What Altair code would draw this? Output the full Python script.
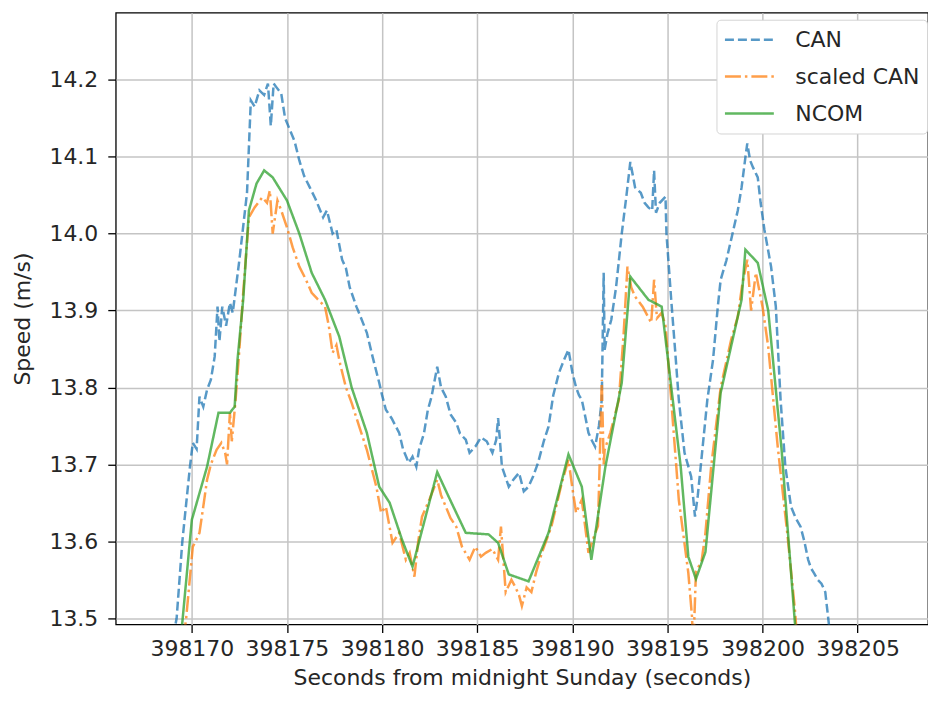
import altair as alt
import pandas as pd

can_t = [398168.9, 398169.2, 398169.5, 398169.9, 398170.05, 398170.25, 398170.4, 398170.6, 398170.8, 398171.0,
         398171.2, 398171.35, 398171.45, 398171.6, 398171.8, 398172.0, 398172.15, 398172.5, 398172.9, 398173.1,
         398173.3, 398173.55, 398173.8, 398174.0, 398174.15, 398174.3, 398174.45, 398174.7, 398174.9, 398175.1,
         398175.4, 398175.65, 398175.9, 398176.2, 398176.5, 398176.9, 398177.1, 398177.4, 398177.6, 398177.9,
         398178.1, 398178.3, 398178.65, 398178.9, 398179.2, 398179.5, 398179.85, 398180.0, 398180.2, 398180.5,
         398180.9, 398181.1, 398181.4, 398181.6, 398181.8, 398181.95, 398182.2, 398182.4, 398182.6, 398182.9,
         398183.1, 398183.35, 398183.6, 398183.9, 398184.1, 398184.4, 398184.6, 398184.9, 398185.2, 398185.5,
         398185.8, 398186.0, 398186.1, 398186.2, 398186.3, 398186.66, 398186.9, 398187.2, 398187.45, 398187.7,
         398187.95, 398188.2, 398188.5, 398188.75, 398189.0, 398189.3, 398189.55, 398189.8, 398190.0, 398190.2,
         398190.35, 398190.5, 398190.7, 398190.85, 398191.05, 398191.2, 398191.4, 398191.55, 398191.65, 398191.7,
         398191.85, 398192.05, 398192.3, 398192.6, 398192.85, 398193.05, 398193.3, 398193.6, 398193.8, 398194.0,
         398194.2, 398194.3, 398194.4, 398194.6, 398194.9, 398194.95, 398195.2, 398195.4, 398195.6, 398195.9,
         398196.25, 398196.45, 398196.6, 398196.75, 398197.1, 398197.4, 398197.65, 398197.8, 398198.1, 398198.35,
         398198.7, 398198.9, 398199.1, 398199.2, 398199.35, 398199.5, 398199.75, 398199.9, 398200.1, 398200.45,
         398200.7, 398200.95, 398201.2, 398201.5, 398201.75, 398202.0, 398202.2, 398202.4, 398202.55, 398202.7,
         398202.9, 398203.1, 398203.3, 398203.5, 398203.6]
can_v = [13.46, 13.50, 13.60, 13.697, 13.728, 13.72, 13.788, 13.775, 13.797, 13.81,
         13.84, 13.905, 13.86, 13.905, 13.88, 13.91, 13.897, 13.966, 14.053, 14.173,
         14.165, 14.186, 14.18, 14.195, 14.14, 14.195, 14.19, 14.182, 14.15, 14.138,
         14.12, 14.095, 14.075, 14.06, 14.045, 14.021, 14.03, 14.0, 14.005, 13.966,
         13.955, 13.93, 13.905, 13.89, 13.871, 13.84, 13.806, 13.79, 13.771, 13.76,
         13.741, 13.72, 13.702, 13.71, 13.697, 13.72, 13.74, 13.77, 13.788, 13.827,
         13.80, 13.788, 13.765, 13.754, 13.74, 13.732, 13.715, 13.723, 13.735, 13.73,
         13.715, 13.732, 13.76, 13.73, 13.697, 13.671, 13.68, 13.689, 13.665, 13.671,
         13.685, 13.702, 13.73, 13.749, 13.79, 13.819, 13.835, 13.849, 13.82, 13.80,
         13.79, 13.784, 13.76, 13.741, 13.73, 13.723, 13.75, 13.784, 13.949, 13.849,
         13.87, 13.888, 13.93, 14.0, 14.05, 14.093, 14.06, 14.053, 14.04, 14.034,
         14.03, 14.082, 14.027, 14.04, 14.048, 14.0, 13.914, 13.85, 13.784, 13.715,
         13.684, 13.632, 13.66, 13.697, 13.784, 13.836, 13.905, 13.94, 13.965, 13.992,
         14.03, 14.06, 14.099, 14.117, 14.095, 14.086, 14.073, 14.04, 14.005, 13.957,
         13.905, 13.784, 13.697, 13.645, 13.63, 13.619, 13.60, 13.576, 13.565, 13.559,
         13.55, 13.545, 13.534, 13.49, 13.47]

scaled_t = [398169.4, 398169.7, 398170.05, 398170.2, 398170.4, 398170.6, 398170.8, 398171.0, 398171.3, 398171.55,
            398171.75, 398171.85, 398172.0, 398172.1, 398172.3, 398172.5, 398172.7, 398173.0, 398173.3, 398173.7,
            398173.95, 398174.1, 398174.25, 398174.5, 398174.7, 398175.0, 398175.3, 398175.65, 398176.0, 398176.3,
            398176.6, 398177.0, 398177.2, 398177.4, 398177.6, 398177.8, 398178.1, 398178.4, 398178.8, 398179.2,
            398179.5, 398179.7, 398179.95, 398180.2, 398180.55, 398180.9, 398181.25, 398181.45, 398181.7, 398181.9,
            398182.1, 398182.5, 398182.9, 398183.1, 398183.35, 398183.6, 398183.9, 398184.2, 398184.6, 398184.9,
            398185.2, 398185.45, 398185.8, 398186.1, 398186.25, 398186.5, 398186.8, 398187.0, 398187.2, 398187.35,
            398187.6, 398187.85, 398188.1, 398188.4, 398188.9, 398189.45, 398189.8, 398190.0, 398190.2, 398190.5,
            398190.85, 398191.05, 398191.35, 398191.5, 398191.55, 398191.65, 398191.7, 398192.0, 398192.45, 398192.7,
            398192.9, 398193.1, 398193.3, 398193.7, 398194.15, 398194.3, 398194.45, 398194.7, 398194.9, 398195.2,
            398195.6, 398196.1, 398196.3, 398196.35, 398196.5, 398196.8, 398197.0, 398197.3, 398197.8, 398198.35,
            398198.7, 398198.95, 398199.2, 398199.4, 398199.65, 398200.0, 398200.3, 398200.8, 398201.3, 398201.7,
            398201.9]
scaled_v = [13.44, 13.50, 13.593, 13.60, 13.611, 13.645, 13.68, 13.70, 13.719, 13.728,
            13.715, 13.70, 13.767, 13.73, 13.784, 13.85, 13.923, 14.021, 14.034, 14.047,
            14.04, 14.056, 14.0, 14.043, 14.03, 14.008, 13.982, 13.957, 13.94, 13.923,
            13.915, 13.905, 13.88, 13.845, 13.855, 13.83, 13.80, 13.78, 13.749, 13.719,
            13.69, 13.671, 13.637, 13.645, 13.598, 13.611, 13.576, 13.585, 13.554, 13.60,
            13.632, 13.655, 13.68, 13.66, 13.645, 13.63, 13.619, 13.593, 13.576, 13.593,
            13.58, 13.585, 13.59, 13.576, 13.619, 13.534, 13.55, 13.541, 13.53, 13.516,
            13.54, 13.534, 13.56, 13.585, 13.619, 13.676, 13.706, 13.67, 13.637, 13.654,
            13.585, 13.60, 13.62, 13.758, 13.81, 13.70, 13.719, 13.741, 13.784, 13.87,
            13.957, 13.93, 13.918, 13.905, 13.884, 13.94, 13.89, 13.897, 13.88, 13.784,
            13.654, 13.559, 13.50, 13.45, 13.56, 13.575, 13.611, 13.697, 13.80, 13.862,
            13.892, 13.936, 13.966, 13.90, 13.949, 13.905, 13.853, 13.723, 13.611, 13.512,
            13.45]

ncom_t = [398169.3, 398169.5, 398170.0, 398170.8, 398171.4, 398172.0, 398172.25, 398172.4, 398172.7, 398173.0,
          398173.4, 398173.8, 398174.25, 398175.0, 398175.65, 398176.3, 398177.0, 398177.75, 398178.4, 398179.2,
          398179.85, 398180.4, 398181.05, 398181.6, 398182.9, 398183.5, 398184.4, 398185.6, 398186.1, 398186.66,
          398187.7, 398188.75, 398189.8, 398190.5, 398191.0, 398191.74, 398192.6, 398193.05, 398194.0, 398194.7,
          398195.7, 398196.1, 398196.5, 398197.0, 398197.8, 398198.9, 398199.1, 398199.75, 398200.3, 398201.0,
          398201.7, 398201.9]
ncom_v = [13.45, 13.495, 13.628, 13.697, 13.767, 13.767, 13.775, 13.836, 13.914, 14.03,
          14.065, 14.082, 14.073, 14.043, 14.0, 13.949, 13.914, 13.866, 13.80, 13.741,
          13.671, 13.65, 13.602, 13.567, 13.69, 13.658, 13.611, 13.609, 13.598, 13.557,
          13.548, 13.611, 13.713, 13.671, 13.576, 13.697, 13.806, 13.944, 13.914, 13.905,
          13.697, 13.58, 13.551, 13.586, 13.793, 13.914, 13.979, 13.962, 13.90, 13.72,
          13.495, 13.45]

series_names = ["CAN", "scaled CAN", "NCOM"]
series_colors = ["#1f77b4", "#ff7f0e", "#2ca02c"]
series_dashes = [[9, 4], [16, 4, 2.5, 4], [1, 0]]

x_ticks = [398170, 398175, 398180, 398185, 398190, 398195, 398200, 398205]
y_ticks = [13.5, 13.6, 13.7, 13.8, 13.9, 14.0, 14.1, 14.2]

rows = []
for name, ts, vs in zip(series_names, [can_t, scaled_t, ncom_t], [can_v, scaled_v, ncom_v]):
    for t, v in zip(ts, vs):
        rows.append({"t": t, "v": v, "series": name})
df = pd.DataFrame(rows)

FONT = "DejaVu Sans"

chart = alt.Chart(df).mark_line(clip=True, strokeWidth=2.5).encode(
    x=alt.X("t:Q",
            scale=alt.Scale(domain=[398166.0, 398208.7], nice=False, zero=False),
            axis=alt.Axis(values=x_ticks, format="d", title="Seconds from midnight Sunday (seconds)")),
    y=alt.Y("v:Q",
            scale=alt.Scale(domain=[13.492, 14.287], nice=False, zero=False),
            axis=alt.Axis(values=y_ticks, format=".1f", title="Speed (m/s)")),
    color=alt.Color("series:N", sort=series_names,
                    scale=alt.Scale(domain=series_names, range=series_colors), title=None),
    strokeDash=alt.StrokeDash("series:N", sort=series_names,
                              scale=alt.Scale(domain=series_names, range=series_dashes), title=None),
    opacity=alt.value(0.75),
).properties(
    width=814,
    height=613,
    autosize=alt.AutoSizeParams(type="none"),
    padding={"left": 108, "top": 4, "right": 0, "bottom": 70},
).configure_view(
    stroke="black", strokeWidth=1.3
).configure_axis(
    labelFont=FONT, labelFontSize=22, labelColor="#262626",
    titleFont=FONT, titleFontSize=22, titleFontWeight="normal", titleColor="#262626",
    grid=True, gridColor="#c4c4c4", gridWidth=1.5,
    domain=False, tickColor="black", tickSize=8, tickWidth=1.3,
).configure_axisX(
    labelPadding=6, titlePadding=8,
).configure_axisY(
    labelPadding=10, titlePadding=14,
).configure_legend(
    orient="none", legendX=602, legendY=7,
    fillColor="white", strokeColor="#d4d4d4", cornerRadius=4, padding=7,
    labelFont=FONT, labelFontSize=22, labelColor="#262626", labelOffset=20,
    symbolType="stroke", symbolSize=2400, symbolStrokeWidth=2.5, symbolOpacity=0.75,
    clipHeight=26, rowPadding=11,
)

chart.save("out.html", embed_options={"renderer": "svg", "actions": False})
